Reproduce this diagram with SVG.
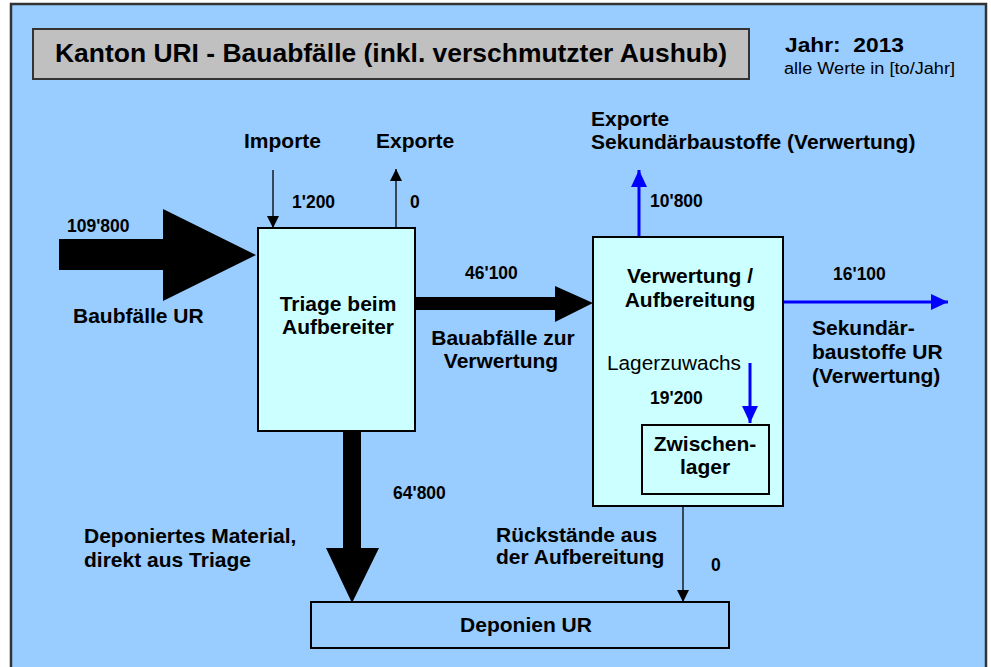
<svg xmlns="http://www.w3.org/2000/svg" width="991" height="667" viewBox="0 0 991 667">
<defs>
<style>
text{font-family:"Liberation Sans",Arial,sans-serif;fill:#000}
.b{font-weight:bold;font-size:21px}
.n{font-weight:bold;font-size:17.5px}
.box{fill:#CCFFFF;stroke:#000;stroke-width:2}
.thin{stroke:#000;stroke-width:1.3;fill:none}
.blue{stroke:#0000FF;stroke-width:3;fill:none}
.mid{text-anchor:middle}
</style>
<marker id="ak" markerWidth="12" markerHeight="12" viewBox="0 0 12 12" refX="12" refY="6" orient="auto" markerUnits="userSpaceOnUse">
<path d="M0,0 L12,6 L0,12 Z" fill="#000"/>
</marker>
<marker id="ab" markerWidth="17" markerHeight="16" viewBox="0 0 17 16" refX="17" refY="8" orient="auto" markerUnits="userSpaceOnUse">
<path d="M0,0 L17,8 L0,16 Z" fill="#0000FF"/>
</marker>
</defs>
<rect x="0" y="0" width="991" height="667" fill="#fff"/>
<rect x="11" y="4" width="975" height="672" fill="#99CCFF" stroke="#333" stroke-width="2.5"/>

<g id="title">
<rect x="33" y="29" width="716" height="50" fill="#C0C0C0" stroke="#333" stroke-width="2"/>
<text x="55" y="62" font-size="25" font-weight="bold" textLength="672" lengthAdjust="spacingAndGlyphs">Kanton URI - Bauabfälle (inkl. verschmutzter Aushub)</text>
</g>
<g id="year">
<text x="785" y="52" font-size="20" font-weight="bold" xml:space="preserve" textLength="119" lengthAdjust="spacingAndGlyphs">Jahr:  2013</text>
<text x="784" y="74" font-size="16" textLength="171" lengthAdjust="spacingAndGlyphs">alle Werte in [to/Jahr]</text>
</g>

<g id="connectors">
<polygon points="59,239 163,239 163,209 256,255 163,301 163,270 59,270" fill="#000"/>
<polygon points="415,297 555,297 555,286 593,303 555,322 555,310 415,310" fill="#000"/>
<polygon points="343,431 361,431 361,548 379,548 352,603 326,548 343,548" fill="#000"/>
<line class="thin" x1="273" y1="170" x2="273" y2="228" marker-end="url(#ak)"/>
<line class="thin" x1="396" y1="228" x2="396" y2="169" marker-end="url(#ak)"/>
<line class="blue" x1="639" y1="237" x2="639" y2="170" marker-end="url(#ab)"/>
<line class="blue" x1="784" y1="302" x2="948" y2="302" marker-end="url(#ab)"/>
<line class="thin" x1="683" y1="506" x2="683" y2="602" marker-end="url(#ak)"/>
</g>

<g id="triage">
<rect class="box" x="258" y="228" width="157" height="203"/>
<text class="b mid" x="338" y="311">Triage beim</text>
<text class="b mid" x="338" y="334">Aufbereiter</text>
</g>

<g id="verwertung">
<rect class="box" x="593" y="237" width="190" height="269"/>
<text class="b mid" x="690" y="283">Verwertung /</text>
<text class="b mid" x="690" y="307">Aufbereitung</text>
<text x="607" y="370" font-size="20.5" textLength="134" lengthAdjust="spacingAndGlyphs">Lagerzuwachs</text>
<line class="blue" x1="750" y1="363" x2="750" y2="423" marker-end="url(#ab)"/>
<text class="n" x="650" y="404">19'200</text>
</g>

<g id="zwischenlager">
<rect class="box" x="642" y="425" width="127" height="69"/>
<text class="b mid" x="705" y="451">Zwischen-</text>
<text class="b mid" x="705" y="474">lager</text>
</g>

<g id="deponien">
<rect x="311" y="602" width="418" height="46" fill="none" stroke="#000" stroke-width="2"/>
<text class="b mid" x="526" y="632">Deponien UR</text>
</g>

<g id="labels">
<text class="b" x="244" y="148">Importe</text>
<text class="b" x="376" y="148">Exporte</text>
<text class="n" x="292" y="208">1'200</text>
<text class="n" x="410" y="208">0</text>
<text class="n" x="67" y="232">109'800</text>
<text class="b" x="73" y="323">Baubfälle UR</text>
<text class="n" x="465" y="279">46'100</text>
<text class="b mid" x="503" y="345">Bauabfälle zur</text>
<text class="b mid" x="501" y="368">Verwertung</text>
<text class="b" x="591" y="126">Exporte</text>
<text class="b" x="591" y="149">Sekundärbaustoffe (Verwertung)</text>
<text class="n" x="650" y="207">10'800</text>
<text class="n" x="833" y="280">16'100</text>
<text class="b" x="812" y="335">Sekundär-</text>
<text class="b" x="812" y="359">baustoffe UR</text>
<text class="b" x="812" y="383">(Verwertung)</text>
<text class="n" x="393" y="499">64'800</text>
<text class="b" x="84" y="543">Deponiertes Material,</text>
<text class="b" x="84" y="567">direkt aus Triage</text>
<text class="b" x="496" y="542">Rückstände aus</text>
<text class="b" x="496" y="564">der Aufbereitung</text>
<text class="n" x="711" y="571">0</text>
</g>
</svg>
